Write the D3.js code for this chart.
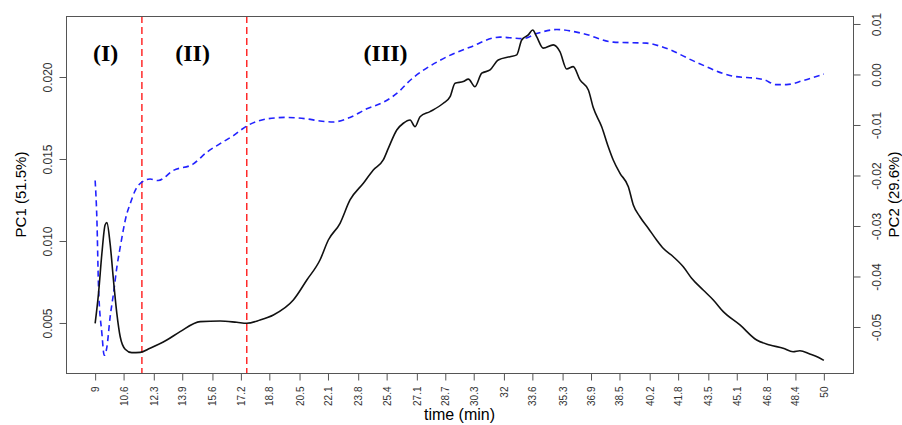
<!DOCTYPE html>
<html>
<head>
<meta charset="utf-8">
<script src="https://cdn.jsdelivr.net/npm/d3@7"></script>
<style>
  body { margin: 0; background: #fff; }
  svg { display: block; }
</style>
</head>
<body>
<div id="chart"></div>
<script>
// PC1 scores (left axis)
const timePC1 = [9.00, 9.19, 9.38, 9.56, 9.66, 9.84, 10.03, 10.22, 10.41, 10.69, 11.06, 11.53, 12.09, 13.03,
  13.78, 14.91, 16.03, 16.97, 17.53, 18.28, 19.03, 20.15, 20.91, 21.65, 22.12, 22.78, 23.34, 24.09, 24.65,
  25.21, 25.50, 25.97, 26.34, 26.72, 27.00, 27.28, 27.84, 28.59, 28.97, 29.25, 29.71, 30.00, 30.37, 30.75,
  31.22, 31.68, 32.34, 32.72, 33.00, 33.37, 33.62, 33.84, 34.21, 34.78, 35.15, 35.53, 35.90, 36.28, 36.75,
  37.03, 37.50, 37.87, 38.15, 38.53, 39.00, 39.28, 39.65, 40.12, 40.59, 40.96, 41.53, 42.09, 42.56, 43.21,
  43.78, 44.34, 45.28, 46.22, 46.96, 47.71, 48.27, 48.65, 49.21, 49.68, 50.00];
const pc1 = [0.00498, 0.00681, 0.00925, 0.01098, 0.01112, 0.00986, 0.00762, 0.00559, 0.00416, 0.00340, 0.00319,
  0.00321, 0.00346, 0.00396, 0.00447, 0.00508, 0.00512, 0.00504, 0.00498, 0.00518, 0.00549, 0.00640, 0.00762,
  0.00884, 0.01006, 0.01108, 0.01250, 0.01352, 0.01433, 0.01494, 0.01566, 0.01677, 0.01718, 0.01738, 0.01697,
  0.01758, 0.01789, 0.01840, 0.01880, 0.01962, 0.01972, 0.01987, 0.01941, 0.02023, 0.02043, 0.02104, 0.02124,
  0.02135, 0.02226, 0.02257, 0.02287, 0.02246, 0.02176, 0.02196, 0.02155, 0.02049, 0.02063, 0.01982, 0.01921,
  0.01812, 0.01697, 0.01575, 0.01494, 0.01413, 0.01331, 0.01220, 0.01148, 0.01078, 0.01006, 0.00956, 0.00904,
  0.00843, 0.00773, 0.00701, 0.00640, 0.00569, 0.00488, 0.00396, 0.00366, 0.00346, 0.00325, 0.00331, 0.00311,
  0.00291, 0.00272];

// PC2 scores (right axis)
const timePC2 = [9.00, 9.10, 9.19, 9.38, 9.51, 9.66, 9.84, 10.03, 10.22, 10.41, 10.78, 10.97, 11.25, 11.63, 12.09,
  12.54, 13.40, 14.53, 15.28, 16.03, 16.78, 17.53, 18.66, 19.78, 20.91, 21.65, 22.40, 23.34, 24.28, 25.21,
  26.15, 26.53, 28.40, 30.09, 31.78, 33.09, 33.84, 34.97, 36.46, 38.15, 40.03, 40.96, 42.84, 44.71, 46.59,
  47.34, 47.90, 48.84, 50.00];
const pc2 = [-0.0210, -0.0289, -0.0421, -0.0513, -0.0556, -0.0540, -0.0481, -0.0434, -0.0382, -0.0342, -0.0276,
  -0.0256, -0.0230, -0.0213, -0.0207, -0.0210, -0.0190, -0.0177, -0.0154, -0.0137, -0.0121, -0.0102, -0.0088,
  -0.0085, -0.0088, -0.0092, -0.0094, -0.0085, -0.0068, -0.0055, -0.0032, -0.0018, 0.0028, 0.0054, 0.0074,
  0.0071, 0.0081, 0.0089, 0.0081, 0.0064, 0.0062, 0.0054, 0.0024, -0.0002, -0.0010, -0.0020, -0.0020, -0.0012,
  0.0001];

const xTicks = [9, 10.6, 12.3, 13.9, 15.6, 17.2, 18.8, 20.5, 22.1, 23.8, 25.4, 27.1, 28.7, 30.3, 32, 33.6,
  35.3, 36.9, 38.5, 40.2, 41.8, 43.5, 45.1, 46.8, 48.4, 50];
const leftTicks = [0.005, 0.010, 0.015, 0.020];
const rightTicks = [-0.05, -0.04, -0.03, -0.02, -0.01, 0.00, 0.01];

// phase boundaries (min) and phase names
const phaseBreaks = [11.63, 17.53];
const phaseNames = ["(I)", "(II)", "(III)"];
const phaseNameTimes = [9.59, 14.48, 25.34];
const phaseNameLevel = 0.0210;

const width = 902, height = 425;
const plot = { left: 66, right: 853, top: 16, bottom: 373 };

const svg = d3.select("#chart").append("svg")
    .attr("width", width)
    .attr("height", height)
    .style("font-family", "'Liberation Sans', Arial, sans-serif");

// scales (R style 4% padding around the data)
const x = d3.scaleLinear().domain([7.36, 51.64]).range([plot.left, plot.right]);
const yL = d3.scaleLinear().domain([0.00195, 0.02372]).range([plot.bottom, plot.top]);
const yR = d3.scaleLinear().domain([-0.05911, 0.01158]).range([plot.bottom, plot.top]);

// phase separators
svg.selectAll(".phase-line")
    .data(phaseBreaks)
    .join("line")
    .attr("class", "phase-line")
    .attr("x1", d => x(d)).attr("x2", d => x(d))
    .attr("y1", plot.top).attr("y2", plot.bottom)
    .style("stroke", "#ff2a2a")
    .style("stroke-width", 1.5)
    .style("stroke-dasharray", "7,4");

// PC2 dashed blue
const line2 = d3.line().x((d, i) => x(timePC2[i])).y(d => yR(d)).curve(d3.curveMonotoneX);
svg.append("path")
    .datum(pc2)
    .attr("d", line2)
    .style("fill", "none")
    .style("stroke", "#2222ff")
    .style("stroke-width", 1.6)
    .style("stroke-dasharray", "6,4");

// PC1 solid black
const line1 = d3.line().x((d, i) => x(timePC1[i])).y(d => yL(d)).curve(d3.curveMonotoneX);
svg.append("path")
    .datum(pc1)
    .attr("d", line1)
    .style("fill", "none")
    .style("stroke", "#111")
    .style("stroke-width", 1.6)
    .style("stroke-linejoin", "round");

// box
svg.append("rect")
    .attr("x", plot.left + 0.5).attr("y", plot.top + 0.5)
    .attr("width", plot.right - plot.left).attr("height", plot.bottom - plot.top)
    .style("fill", "none")
    .style("stroke", "#555")
    .style("stroke-width", 1);

// bottom axis, labels turned 90 degrees
svg.append("g")
    .attr("transform", "translate(0," + (plot.bottom + 0.5) + ")")
    .call(d3.axisBottom(x).tickValues(xTicks).tickFormat(d => d).tickSize(7).tickSizeOuter(0))
    .call(g => g.select(".domain").remove())
    .call(g => g.selectAll("line").style("stroke", "#555"))
    .call(g => g.selectAll("text")
        .attr("transform", "rotate(-90)")
        .attr("x", -13).attr("y", 0).attr("dy", "0.35em")
        .style("text-anchor", "end")
        .style("font-size", "10px")
        .style("font-family", "'Liberation Sans', Arial, sans-serif")
        .style("fill", "#333"));

// left axis
svg.append("g")
    .attr("transform", "translate(" + (plot.left + 0.5) + ",0)")
    .call(d3.axisLeft(yL).tickValues(leftTicks).tickFormat(d => d.toFixed(3)).tickSize(7).tickSizeOuter(0))
    .call(g => g.select(".domain").remove())
    .call(g => g.selectAll("line").style("stroke", "#555"))
    .call(g => g.selectAll("text")
        .attr("transform", "rotate(-90)")
        .attr("x", 0).attr("y", -19).attr("dy", "0.35em")
        .style("text-anchor", "middle")
        .style("font-size", "12px")
        .style("font-family", "'Liberation Sans', Arial, sans-serif")
        .style("fill", "#333"));

// right axis
svg.append("g")
    .attr("transform", "translate(" + (plot.right + 0.5) + ",0)")
    .call(d3.axisRight(yR).tickValues(rightTicks).tickFormat(d => d.toFixed(2)).tickSize(7).tickSizeOuter(0))
    .call(g => g.select(".domain").remove())
    .call(g => g.selectAll("line").style("stroke", "#555"))
    .call(g => g.selectAll("text")
        .attr("transform", "rotate(-90)")
        .attr("x", 0).attr("y", 23).attr("dy", "0.35em")
        .style("text-anchor", "middle")
        .style("font-size", "12px")
        .style("font-family", "'Liberation Sans', Arial, sans-serif")
        .style("fill", "#333"));

// axis titles
const midY = (plot.top + plot.bottom) / 2;
svg.append("text")
    .attr("x", (plot.left + plot.right) / 2).attr("y", 420)
    .attr("text-anchor", "middle")
    .style("font-size", "16px")
    .text("time (min)");

svg.append("text")
    .attr("transform", "translate(21," + midY + ") rotate(-90)")
    .attr("dy", "0.35em")
    .attr("text-anchor", "middle")
    .style("font-size", "15px")
    .text("PC1 (51.5%)");

svg.append("text")
    .attr("transform", "translate(894," + midY + ") rotate(-90)")
    .attr("dy", "0.35em")
    .attr("text-anchor", "middle")
    .style("font-size", "15px")
    .text("PC2 (29.6%)");

// phase names
svg.selectAll(".phase-name")
    .data(phaseNames)
    .join("text")
    .attr("class", "phase-name")
    .attr("x", (d, i) => x(phaseNameTimes[i]))
    .attr("y", yL(phaseNameLevel))
    .attr("text-anchor", "middle")
    .style("font-family", "'Liberation Serif', 'Times New Roman', serif")
    .style("font-weight", "bold")
    .style("font-size", "24px")
    .text(d => d);
</script>
</body>
</html>
